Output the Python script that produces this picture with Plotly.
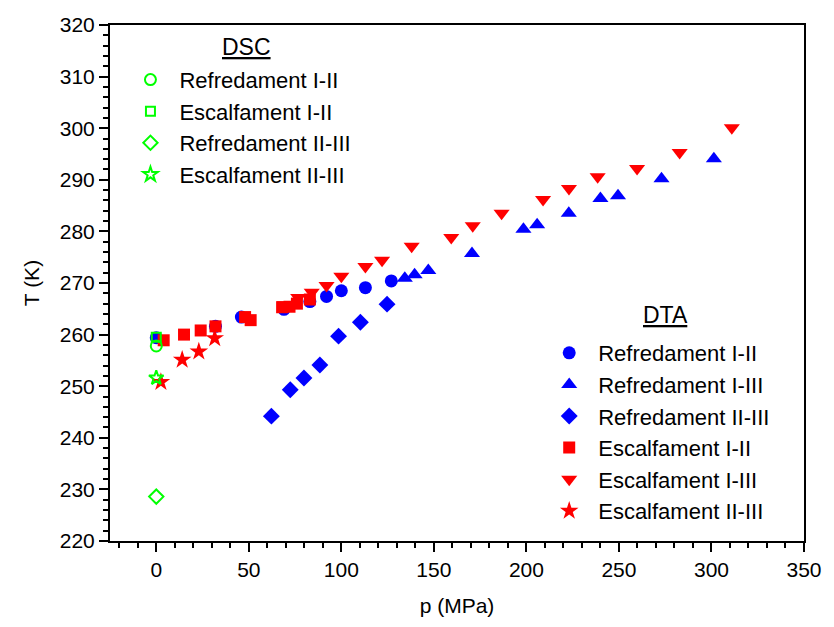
import plotly.graph_objects as go

# ---- DTA data ----
ref12_p = [0, 32, 46, 69, 83, 92, 100, 113, 127]
ref12_T = [259.4, 261.6, 263.4, 264.9, 266.4, 267.4, 268.5, 269.1, 270.4]

ref13_p = [134.3, 139.6, 147, 170.6, 198.4, 205.8, 222.9, 240, 249.5, 273, 301.3]
ref13_T = [270.9, 271.6, 272.4, 275.7, 280.4, 281.3, 283.5, 286.4, 286.9, 290.2, 294.1]

ref23_p = [62.2, 72.4, 79.8, 88.4, 98.5, 110.3, 124.7]
ref23_T = [244.2, 249.3, 251.6, 254.1, 259.7, 262.4, 265.9]

esc12_p = [4, 15, 24, 32, 48, 51, 68, 72, 76, 83]
esc12_T = [258.9, 260.0, 260.8, 261.6, 263.4, 262.8, 265.3, 265.4, 266.0, 266.8]

esc13_p = [69.3, 76.7, 84, 92, 100, 113, 122, 138, 159.4, 171, 186.6, 209, 223, 238.5, 259.8, 282.8, 311]
esc13_T = [265.8, 267.2, 268.2, 269.5, 271.3, 273.2, 274.4, 277.1, 278.8, 281.1, 283.5, 286.2, 288.3, 290.6, 292.2, 295.3, 300.1]

esc23_p = [2.5, 14, 23, 31.6]
esc23_T = [250.8, 255.1, 256.7, 259.3]

# ---- DSC data ----
dsc_ref12_p = [0]
dsc_ref12_T = [257.8]
dsc_esc12_p = [0]
dsc_esc12_T = [259.5]
dsc_ref23_p = [0]
dsc_ref23_T = [228.6]
dsc_esc23_p = [0]
dsc_esc23_T = [251.6]

BLUE = "#0000ff"
RED = "#ff0000"
GREEN = "#00ff00"
FONT = "Liberation Sans, Arial, sans-serif"

fig = go.Figure()

def dta(x, y, name, color, symbol, size):
    fig.add_trace(go.Scatter(x=x, y=y, mode="markers", name=name, legend="legend",
                             marker=dict(color=color, symbol=symbol, size=size, line=dict(width=0))))

def dsc(x, y, name, symbol, size):
    fig.add_trace(go.Scatter(x=x, y=y, mode="markers", name=name, legend="legend2",
                             marker=dict(color=GREEN, symbol=symbol, size=size,
                                         line=dict(width=2, color=GREEN))))

dta(ref12_p, ref12_T, "Refredament I-II", BLUE, "circle", 13)
dta(ref13_p, ref13_T, "Refredament I-III", BLUE, "triangle-up", 14)
dta(ref23_p, ref23_T, "Refredament II-III", BLUE, "diamond", 13)
dta(esc12_p, esc12_T, "Escalfament I-II", RED, "square", 12)
dta(esc13_p, esc13_T, "Escalfament I-III", RED, "triangle-down", 14)
dta(esc23_p, esc23_T, "Escalfament II-III", RED, "star", 14)

dsc(dsc_ref12_p, dsc_ref12_T, "Refredament I-II", "circle-open", 11)
dsc(dsc_esc12_p, dsc_esc12_T, "Escalfament I-II", "square-open", 9)
dsc(dsc_ref23_p, dsc_ref23_T, "Refredament II-III", "diamond-open", 11)
dsc(dsc_esc23_p, dsc_esc23_T, "Escalfament II-III", "star-open", 11)

axis_common = dict(showline=True, linecolor="black", linewidth=2, mirror=True,
                   ticks="outside", ticklen=9, tickwidth=2, tickcolor="black",
                   showgrid=False, zeroline=False,
                   tickfont=dict(family=FONT, size=21, color="black"),
                   minor=dict(ticks="outside", ticklen=5, tickwidth=2, tickcolor="black"))

fig.update_xaxes(range=[-25, 350], tick0=0, dtick=50,
                 title=dict(text="p (MPa)", font=dict(family=FONT, size=21, color="black"), standoff=18),
                 **axis_common)
fig.update_yaxes(range=[220, 320], tick0=220, dtick=10,
                 title=dict(text="T (K)", font=dict(family=FONT, size=21, color="black"), standoff=14),
                 **axis_common)

fig.update_layout(
    width=834, height=627,
    margin=dict(l=110, r=19, t=25, b=86),
    plot_bgcolor="white", paper_bgcolor="white",
    font=dict(family=FONT, size=22, color="black"),
    legend=dict(x=0.6199, y=0.405, xanchor="left", yanchor="top", itemwidth=48,
                bgcolor="rgba(0,0,0,0)", font=dict(size=22)),
    legend2=dict(x=0.0165, y=0.9345, xanchor="left", yanchor="top", itemwidth=48,
                 bgcolor="rgba(0,0,0,0)", font=dict(size=22)),
    annotations=[
        dict(text="<u>DTA</u>", x=0.8, y=0.438, xref="paper", yref="paper",
             xanchor="center", yanchor="middle", showarrow=False,
             font=dict(family=FONT, size=23, color="black")),
        dict(text="<u>DSC</u>", x=0.197, y=0.957, xref="paper", yref="paper",
             xanchor="center", yanchor="middle", showarrow=False,
             font=dict(family=FONT, size=23, color="black")),
    ],
)

fig.write_html("out.html")
